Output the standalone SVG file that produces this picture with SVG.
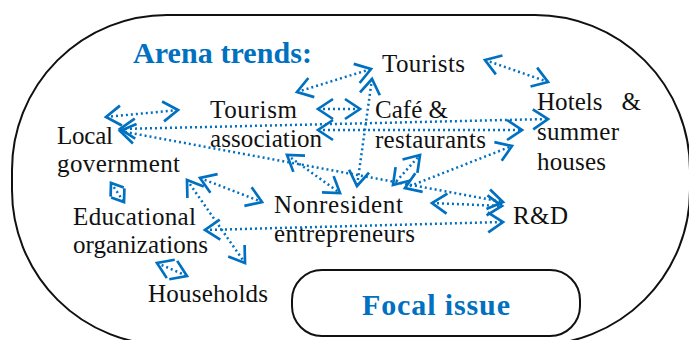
<svg xmlns="http://www.w3.org/2000/svg" width="689" height="340" viewBox="0 0 689 340">
<style>
.t{font-family:"Liberation Serif","Times New Roman",serif;font-size:25px;fill:#111}
.b{font-family:"Liberation Serif","Times New Roman",serif;font-size:30px;font-weight:bold;fill:#0070C0}
.c{fill:none;stroke:#0070C0;stroke-width:2.5;stroke-dasharray:2 3;marker-start:url(#ah);marker-end:url(#ah)}
.s{fill:none;stroke:#0070C0;stroke-width:2.5;stroke-dasharray:2 3;marker-start:url(#ahs);marker-end:url(#ahs)}
</style>
<defs>
<marker id="ah" markerUnits="userSpaceOnUse" orient="auto-start-reverse" overflow="visible" markerWidth="30" markerHeight="30" refX="0" refY="0">
<path d="M-15,-10 L0,0 L-15,10" fill="none" stroke="#0070C0" stroke-width="2.7" stroke-dasharray="none"/>
</marker>
<marker id="ahs" markerUnits="userSpaceOnUse" orient="auto-start-reverse" overflow="visible" markerWidth="30" markerHeight="30" refX="0" refY="0">
<path d="M-11,-8 L0,0 L-11,8" fill="none" stroke="#0070C0" stroke-width="2.7" stroke-dasharray="none"/>
</marker>
</defs>
<rect width="689" height="340" fill="#fff"/>
<g id="arena">
<rect x="12" y="15" width="678" height="330" rx="155" ry="155" fill="none" stroke="#111" stroke-width="2"/>
<text class="b" x="133" y="63" textLength="179">Arena trends:</text>
</g>
<g id="focal">
<rect x="292" y="270" width="288" height="66" rx="30" ry="30" fill="none" stroke="#111" stroke-width="2"/>
<text class="b" x="362" y="315" textLength="148">Focal issue</text>
</g>
<g id="tourists"><text class="t" x="382" y="72" textLength="83">Tourists</text></g>
<g id="tourism"><text class="t" x="210" y="118" textLength="87">Tourism</text><text class="t" x="210" y="147" textLength="112">association</text></g>
<g id="cafe"><text class="t" x="375" y="118" textLength="73">Café &amp;</text><text class="t" x="375" y="148" textLength="111">restaurants</text></g>
<g id="hotels"><text class="t" x="537" y="110" textLength="104" xml:space="preserve">Hotels   &amp;</text><text class="t" x="537" y="140" textLength="82">summer</text><text class="t" x="537" y="170" textLength="69">houses</text></g>
<g id="localgov"><text class="t" x="57" y="144" textLength="56">Local</text><text class="t" x="57" y="172" textLength="123">government</text></g>
<g id="educational"><text class="t" x="73" y="225" textLength="123">Educational</text><text class="t" x="73" y="253" textLength="135">organizations</text></g>
<g id="households"><text class="t" x="148" y="302" textLength="120">Households</text></g>
<g id="nonresident"><text class="t" x="274" y="213" textLength="129">Nonresident</text><text class="t" x="274" y="242" textLength="141">entrepreneurs</text></g>
<g id="rd"><text class="t" x="513" y="224" textLength="55">R&amp;D</text></g>
<g id="connectors">
<line class="c" x1="485" y1="60" x2="548" y2="82"/>
<line class="c" x1="297" y1="92" x2="371" y2="69"/>
<line class="c" x1="106" y1="117" x2="178" y2="110"/>
<line class="c" x1="318" y1="109" x2="360" y2="109"/>
<line class="c" x1="120" y1="129" x2="548" y2="119"/>
<line class="c" x1="318" y1="130" x2="522" y2="130"/>
<line class="c" x1="120" y1="131" x2="503" y2="202"/>
<line class="c" x1="287" y1="155" x2="340" y2="193"/>
<line class="c" x1="372" y1="79" x2="357" y2="186"/>
<line class="c" x1="393" y1="185" x2="420" y2="155"/>
<line class="c" x1="405" y1="188" x2="512" y2="146"/>
<line class="c" x1="432" y1="203" x2="502" y2="206"/>
<line class="c" x1="205" y1="230" x2="503" y2="222"/>
<line class="c" x1="200" y1="178" x2="262" y2="202"/>
<line class="c" x1="187" y1="180" x2="245" y2="263"/>
<line class="s" x1="111" y1="183" x2="124" y2="202"/>
<line class="c" x1="157" y1="263" x2="187" y2="276"/>
</g>
</svg>
